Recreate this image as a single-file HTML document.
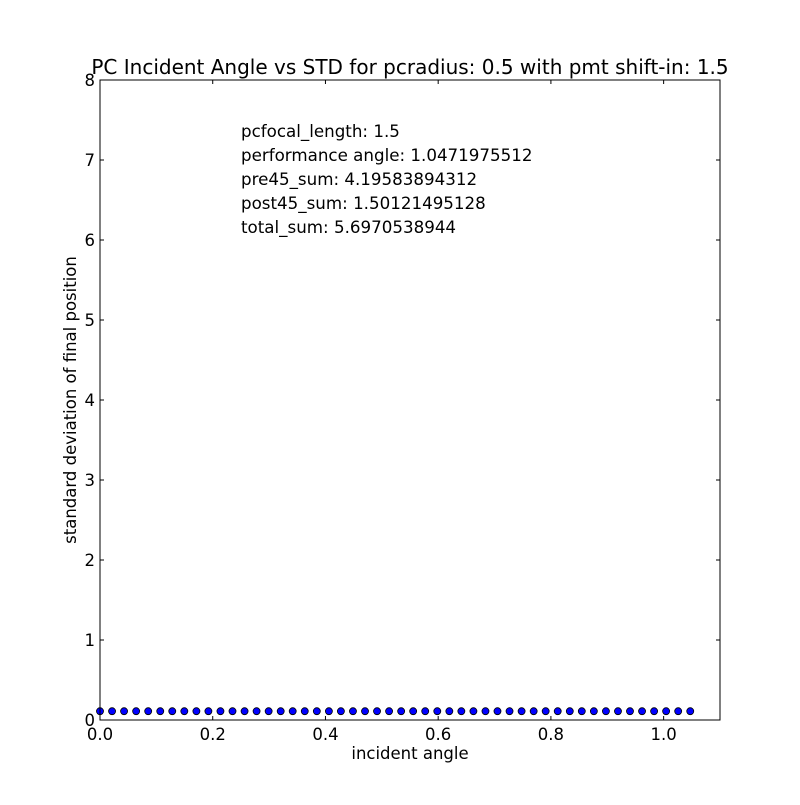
<!DOCTYPE html>
<html><head><meta charset="utf-8"><style>
body{margin:0;background:#fff;}
svg text{font-family:"DejaVu Sans","Liberation Sans",sans-serif;}
</style></head><body>
<svg id="chart" width="800" height="800">
<rect width="800" height="800" fill="#fff"/>
<g id="plot"></g>
</svg>
<script>
const xTicks=[0,0.2,0.4,0.6,0.8,1.0];
const xTickLabels=["0.0","0.2","0.4","0.6","0.8","1.0"];
const yTicks=[0,1,2,3,4,5,6,7,8];
const xVals=[0,0.0214,0.0427,0.0641,0.0855,0.1069,0.1282,0.1496,0.1710,0.1923,0.2137,0.2351,0.2565,0.2778,0.2992,0.3206,0.3419,0.3633,0.3847,0.4061,0.4274,0.4488,0.4702,0.4915,0.5129,0.5343,0.5556,0.5770,0.5984,0.6198,0.6411,0.6625,0.6839,0.7052,0.7266,0.7480,0.7694,0.7907,0.8121,0.8335,0.8548,0.8762,0.8976,0.9190,0.9403,0.9617,0.9831,1.0044,1.0258,1.0472];
const yVals=[0.11,0.11,0.11,0.11,0.11,0.11,0.11,0.11,0.11,0.11,0.11,0.11,0.11,0.11,0.11,0.11,0.11,0.11,0.11,0.11,0.11,0.11,0.11,0.11,0.11,0.11,0.11,0.11,0.11,0.11,0.11,0.11,0.11,0.11,0.11,0.11,0.11,0.11,0.11,0.11,0.11,0.11,0.11,0.11,0.11,0.11,0.11,0.11,0.11,0.11];
const L=100,R=720,T=80,B=720;
const sx=v=>L+v/1.1*(R-L);
const sy=v=>B-v/8*(B-T);
const NS="http://www.w3.org/2000/svg";
const g=document.getElementById('plot');
function mk(tag,attrs,text){const e=document.createElementNS(NS,tag);for(const k in attrs)e.setAttribute(k,attrs[k]);if(text!==undefined)e.textContent=text;g.appendChild(e);return e;}
xVals.forEach((x,i)=>{
  const c=mk('circle',{cx:sx(x),cy:sy(yVals[i]),r:3.5,fill:'#0000ff',stroke:'#000','stroke-width':0.8});
  
  
});
const f=mk('rect',{x:L,y:T,width:R-L,height:B-T,fill:'none',stroke:'#000','stroke-width':1});


xTicks.forEach((t,i)=>{
  mk('line',{x1:sx(t),x2:sx(t),y1:B,y2:B-4,stroke:'#000'});
  mk('line',{x1:sx(t),x2:sx(t),y1:T,y2:T+4,stroke:'#000'});
  const l=mk('text',{x:sx(t),y:B+20,'text-anchor':'middle','font-size':16.5},xTickLabels[i]);
  
  
});
yTicks.forEach(t=>{
  mk('line',{x1:L,x2:L+4,y1:sy(t),y2:sy(t),stroke:'#000'});
  mk('line',{x1:R,x2:R-4,y1:sy(t),y2:sy(t),stroke:'#000'});
  const l=mk('text',{x:L-5,y:sy(t)+6,'text-anchor':'end','font-size':16.5},String(t));
  
  
});
const title=mk('text',{x:410,y:74,'text-anchor':'middle','font-size':20},'PC Incident Angle vs STD for pcradius: 0.5 with pmt shift-in: 1.5');


const xt=mk('text',{x:410,y:759,'text-anchor':'middle','font-size':16.5},'incident angle');


const yt=mk('text',{x:76,y:400,'text-anchor':'middle','font-size':16.5,transform:'rotate(-90 76 400)'},'standard deviation of final position');


const notes=['pcfocal_length: 1.5','performance angle: 1.0471975512','pre45_sum: 4.19583894312','post45_sum: 1.50121495128','total_sum: 5.6970538944'];
notes.forEach((s,i)=>{
  const n=mk('text',{x:241,y:137+i*24,'font-size':16.7},s);
  
  
});
</script>
</body></html>
